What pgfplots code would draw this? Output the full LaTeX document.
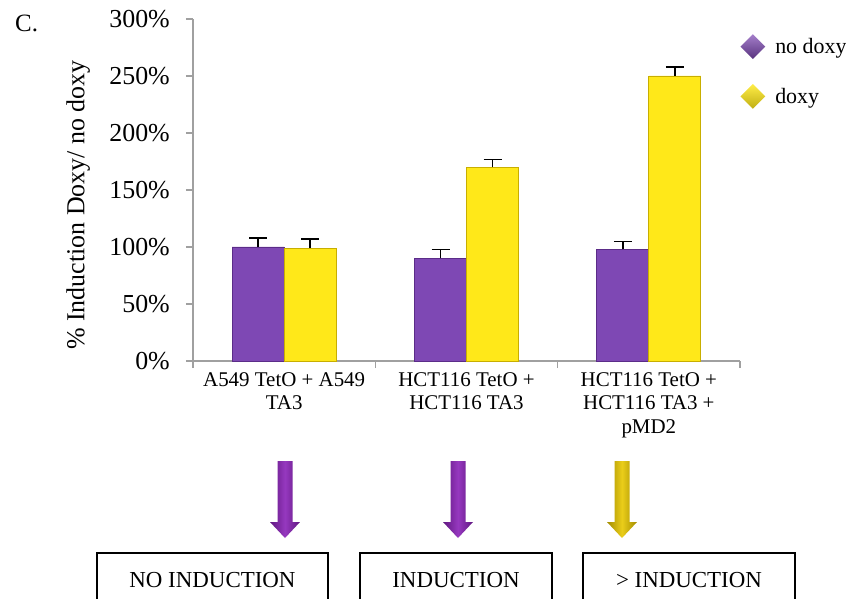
\documentclass[border=0pt]{standalone}
\usepackage{pgfplots}
\pgfplotsset{compat=1.18}
\usetikzlibrary{shapes.geometric}
\usepackage{fontspec}
\setmainfont{Liberation Serif}
\definecolor{barpurple}{HTML}{7E48B4}
\definecolor{barpurpleedge}{HTML}{5B2C88}
\definecolor{baryellow}{HTML}{FFE819}
\definecolor{baryellowedge}{HTML}{C8AE00}
\definecolor{axisgray}{HTML}{A0A0A0}
\definecolor{arrowpurple}{HTML}{8A22B8}
\definecolor{arrowyellow}{HTML}{E8C800}
\begin{document}
\begin{tikzpicture}
\useasboundingbox (-193bp,-238bp) rectangle (653bp,361bp);
\begin{axis}[
  at={(0,0)}, anchor=south west,
  scale only axis, width=547bp, height=342bp,
  xmin=-0.5, xmax=2.5, ymin=0, ymax=300,
  ybar, bar width=52bp,
  axis x line*=bottom, axis y line*=left,
  axis line style={axisgray, line width=1.3bp, -},
  tick align=outside,
  major tick length=7bp, minor tick length=7bp,
  tick style={axisgray, line width=1.3bp},
  xtick={0,1,2},
  xticklabels={{A549 TetO + A549\\TA3},{HCT116 TetO +\\HCT116 TA3},{HCT116 TetO +\\HCT116 TA3 +\\pMD2}},
  minor xtick={-0.5,0.5,1.5,2.5},
  major x tick style={draw=none},
  ytick={0,50,...,300},
  yticklabel={\pgfmathprintnumber{\tick}\%},
  /pgf/number format/assume math mode=true,
  yticklabel style={font=\fontsize{26}{28}\selectfont, inner sep=0pt, xshift=-16bp},
  xticklabel style={font=\fontsize{21}{24}\selectfont, align=center, inner sep=0pt, yshift=-4bp},
  ylabel={\% Induction Doxy/ no doxy},
  ylabel style={font=\fontsize{26}{28}\selectfont, at={(axis description cs:-0.21,0.456)}, anchor=center},
  legend entries={no doxy, doxy},
  legend style={draw=none, fill=none, at={(0.995,0.962)}, anchor=north west,
    font=\fontsize{22}{24}\selectfont, row sep=25bp,
    /tikz/every odd column/.append style={column sep=8bp}},
  legend cell align=left,
]
\addlegendimage{legend image code/.code={\node[diamond, aspect=1, minimum size=25bp, inner sep=0pt, top color=barpurple!70!white, bottom color=barpurple!70!black] at (0bp,0bp) {};}}
\addlegendimage{legend image code/.code={\node[diamond, aspect=1, minimum size=25bp, inner sep=0pt, top color=baryellow!80!white, bottom color=baryellow!75!black] at (0bp,0bp) {};}}
\addplot[forget plot, bar shift=-26bp, fill=barpurple, draw=barpurpleedge, line width=0.8bp,
  error bars/.cd, y dir=plus, y explicit,
  error bar style={black, line width=1.4bp},
  error mark options={rotate=90, mark size=9bp, line width=1.4bp, black}]
  coordinates {(0,100) +- (0,8) (1,90) +- (0,8) (2,98) +- (0,7)};
\addplot[forget plot, bar shift=26bp, fill=baryellow, draw=baryellowedge, line width=0.8bp,
  error bars/.cd, y dir=plus, y explicit,
  error bar style={black, line width=1.4bp},
  error mark options={rotate=90, mark size=9bp, line width=1.4bp, black}]
  coordinates {(0,99) +- (0,8) (1,170) +- (0,7) (2,250) +- (0,8)};
\end{axis}
\begin{scope}[x=1bp,y=1bp]
\node[anchor=base west, inner sep=0pt, font=\fontsize{25}{27}\selectfont] at (-178,330) {C.};
\foreach \cx/\col in {92/arrowpurple, 265/arrowpurple, 429/arrowyellow}{
  \shade[left color=\col!70!black, right color=\col!70!black, middle color=\col!90!white]
    (\cx-7.5,-100) -- (\cx+7.5,-100) -- (\cx+7.5,-161) -- (\cx+15,-161) -- (\cx,-177)
    -- (\cx-15,-161) -- (\cx-7.5,-161) -- cycle;
}
\draw[line width=2.2bp] (-96,-250) -- (-96,-192) -- (135,-192) -- (135,-250);
\draw[line width=2.2bp] (167,-250) -- (167,-192) -- (359,-192) -- (359,-250);
\draw[line width=2.2bp] (390,-250) -- (390,-192) -- (602,-192) -- (602,-250);
\node[anchor=base, inner sep=0pt, font=\fontsize{23}{25}\selectfont] at (19.5,-226) {NO INDUCTION};
\node[anchor=base, inner sep=0pt, font=\fontsize{23}{25}\selectfont] at (263,-226) {INDUCTION};
\node[anchor=base, inner sep=0pt, font=\fontsize{23}{25}\selectfont] at (496,-226) {> INDUCTION};
\end{scope}
\end{tikzpicture}
\end{document}
